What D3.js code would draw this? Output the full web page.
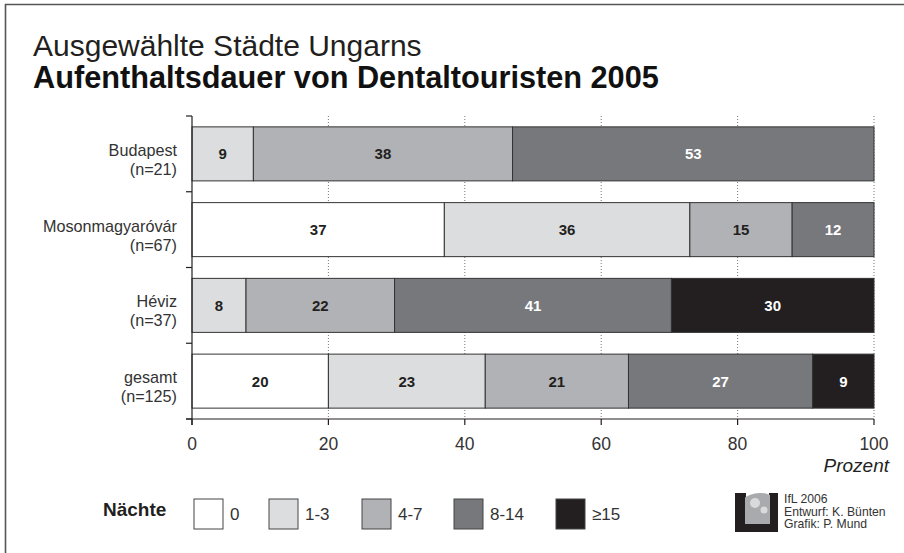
<!DOCTYPE html>
<html>
<head>
<meta charset="utf-8">
<script src="https://cdn.jsdelivr.net/npm/d3@7"></script>
<style>
  html, body { margin: 0; padding: 0; background: #fff; }
  svg { display: block; font-family: "Liberation Sans", Arial, Helvetica, sans-serif; }
</style>
</head>
<body>
<svg id="chart" width="904" height="553"></svg>
<script>
// ---- data ----
const cities = ["Budapest", "Mosonmagyaróvár", "Héviz", "gesamt"];
const sampleSizes = ["(n=21)", "(n=67)", "(n=37)", "(n=125)"];
const nightClasses = ["0", "1-3", "4-7", "8-14", "≥15"];
const shares = [
  [0, 9, 38, 53, 0],
  [37, 36, 15, 12, 0],
  [0, 8, 22, 41, 30],
  [20, 23, 21, 27, 9]
];
const classColors = ["#ffffff", "#dcdddf", "#b1b2b5", "#77787c", "#231f20"];
const labelColors = ["#231f20", "#231f20", "#231f20", "#ffffff", "#ffffff"];
const xTicks = [0, 20, 40, 60, 80, 100];
const titleLine1 = "Ausgewählte Städte Ungarns";
const titleLine2 = "Aufenthaltsdauer von Dentaltouristen 2005";
const axisTitle = "Prozent";
const legendTitle = "Nächte";
const credits = ["IfL 2006", "Entwurf: K. Bünten", "Grafik: P. Mund"];

// ---- layout ----
const svg = d3.select("#chart");
const ink = "#231f20";
const x0 = 192, x1 = 874, yTop = 116, yBot = 419;
const legendX = [194, 269, 362, 454, 556];

const x = d3.scaleLinear().domain([0, 100]).range([x0, x1]);
const y = d3.scaleBand().domain(cities).range([yTop, yBot]).paddingInner(0.287).paddingOuter(0.1435);

// frame
svg.append("path")
  .attr("d", `M5.5,560 V4.5 H910`)
  .attr("fill", "none").attr("stroke", "#555").attr("stroke-width", 1.6);

// titles
svg.append("text").attr("x", 33).attr("y", 56).attr("font-size", 30).attr("fill", ink)
  .attr("font-weight", 300).text(titleLine1);
svg.append("text").attr("x", 33).attr("y", 88).attr("font-size", 30.7).attr("font-weight", "bold").attr("fill", "#111")
  .text(titleLine2);

// gridlines (dotted)
svg.append("g").selectAll("line").data(xTicks.filter(d => d > 0)).join("line")
  .attr("x1", d => x(d)).attr("x2", d => x(d))
  .attr("y1", yTop).attr("y2", yBot)
  .attr("stroke", "#777").attr("stroke-width", 1).attr("stroke-dasharray", "1,2");

// stacked bars
const rows = cities.map((c, i) => {
  const total = d3.sum(shares[i]);
  let acc = 0;
  return shares[i].map((v, k) => {
    const p = v / total * 100;
    const seg = { city: c, k, v, start: acc, end: acc + p };
    acc += p;
    return seg;
  }).filter(s => s.v > 0);
});

const barG = svg.append("g");
rows.forEach(segs => {
  const g = barG.append("g");
  g.selectAll("rect").data(segs).join("rect")
    .attr("x", d => x(d.start)).attr("y", d => y(d.city))
    .attr("width", d => x(d.end) - x(d.start)).attr("height", y.bandwidth())
    .attr("fill", d => classColors[d.k])
    .attr("stroke", "#333").attr("stroke-width", 1);
  g.selectAll("text").data(segs).join("text")
    .attr("x", d => (x(d.start) + x(d.end)) / 2)
    .attr("y", d => y(d.city) + y.bandwidth() / 2 + 5.5)
    .attr("text-anchor", "middle").attr("font-size", 15).attr("font-weight", "bold")
    .attr("fill", d => labelColors[d.k])
    .text(d => d.v);
});

// axes
const axG = svg.append("g").attr("stroke", ink).attr("stroke-width", 1.2).attr("fill", "none");
axG.append("line").attr("x1", x0).attr("x2", x0).attr("y1", yTop).attr("y2", yBot + 6);
axG.append("line").attr("x1", x0 - 6).attr("x2", x1).attr("y1", yBot).attr("y2", yBot);
const bounds = d3.range(cities.length + 1).map(i => yTop + i * y.step());
axG.selectAll(".yt").data(bounds).join("line")
  .attr("x1", x0 - 6).attr("x2", x0).attr("y1", d => d).attr("y2", d => d);
axG.selectAll(".xt").data(xTicks).join("line")
  .attr("x1", d => x(d)).attr("x2", d => x(d)).attr("y1", yBot).attr("y2", yBot + 6);

svg.append("g").selectAll("text").data(xTicks).join("text")
  .attr("x", d => x(d)).attr("y", yBot + 31)
  .attr("text-anchor", "middle").attr("font-size", 17.5).attr("fill", "#333")
  .text(d => d);
svg.append("text").attr("x", 889).attr("y", 472).attr("text-anchor", "end")
  .attr("font-size", 19).attr("font-style", "italic").attr("fill", ink).text(axisTitle);

// category labels
const catG = svg.append("g").attr("text-anchor", "end").attr("font-size", 16.2).attr("fill", "#333");
cities.forEach((c, i) => {
  const cy = y(c) + y.bandwidth() / 2;
  catG.append("text").attr("x", 177).attr("y", cy + 2).text(c);
  catG.append("text").attr("x", 177).attr("y", cy + 21).text(sampleSizes[i]);
});

// legend
svg.append("text").attr("x", 103).attr("y", 516).attr("font-size", 19).attr("font-weight", "bold")
  .attr("fill", ink).text(legendTitle);
nightClasses.forEach((n, k) => {
  const lx = legendX[k];
  svg.append("rect").attr("x", lx).attr("y", 499).attr("width", 29).attr("height", 30)
    .attr("fill", classColors[k]).attr("stroke", "#444").attr("stroke-width", 1);
  svg.append("text").attr("x", lx + 36).attr("y", 520).attr("font-size", 17)
    .attr("fill", "#333").text(n);
});

// credits logo
const logo = svg.append("g");
logo.append("defs").append("clipPath").attr("id", "lc")
  .append("rect").attr("x", 745).attr("y", 493).attr("width", 25).attr("height", 31);
logo.append("rect").attr("x", 735).attr("y", 493).attr("width", 11).attr("height", 39).attr("fill", "#231f20");
logo.append("rect").attr("x", 769).attr("y", 493).attr("width", 9).attr("height", 39).attr("fill", "#231f20");
logo.append("rect").attr("x", 745).attr("y", 523).attr("width", 25).attr("height", 9).attr("fill", "#231f20");
logo.append("circle").attr("cx", 760).attr("cy", 520).attr("r", 27).attr("fill", "#a9aaad").attr("clip-path", "url(#lc)");
logo.append("circle").attr("cx", 755).attr("cy", 503).attr("r", 5).attr("fill", "#d9dadc").attr("clip-path", "url(#lc)");
logo.append("circle").attr("cx", 764).attr("cy", 510).attr("r", 3.5).attr("fill", "#d9dadc").attr("clip-path", "url(#lc)");

svg.append("g").selectAll("text").data(credits).join("text")
  .attr("x", 784).attr("y", (d, i) => 503 + i * 12.5)
  .attr("font-size", 12.2).attr("fill", "#333").text(d => d);
</script>
</body>
</html>
